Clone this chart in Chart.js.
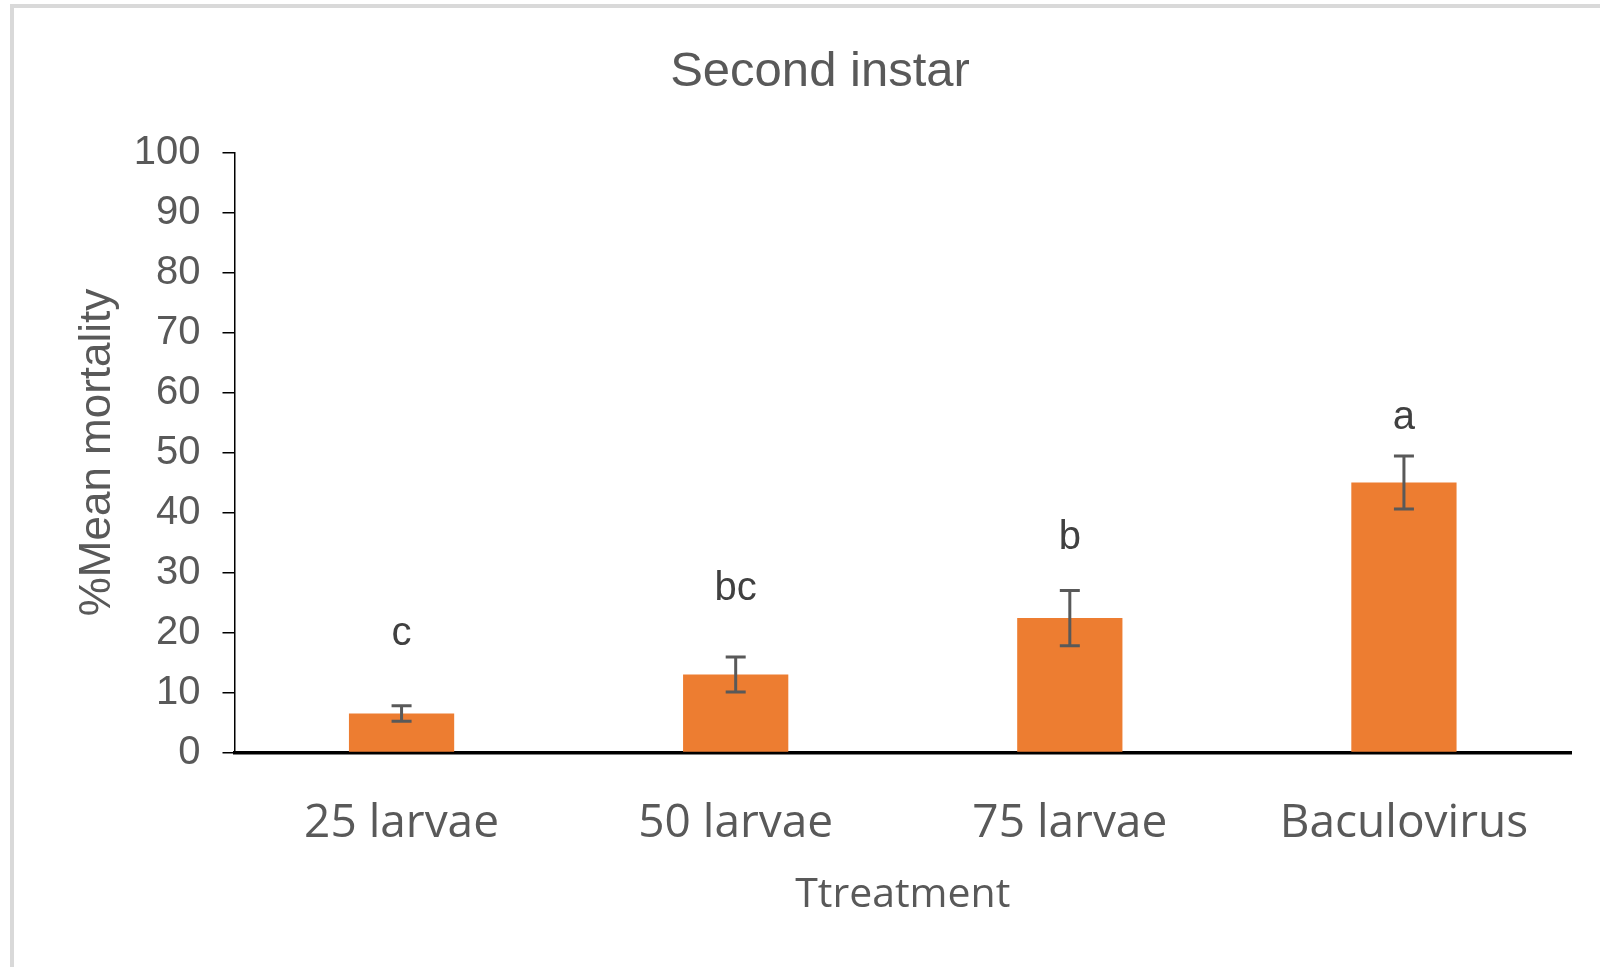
<!DOCTYPE html>
<html>
<head>
<meta charset="utf-8">
<title>Second instar</title>
<script src="https://cdn.jsdelivr.net/npm/chart.js@4.4.1/dist/chart.umd.min.js"></script>
<style>
  html, body { margin: 0; padding: 0; background: #fff; overflow: hidden; }
  #frame {
    position: absolute; left: 10px; top: 4px;
    width: 1620px; height: 1000px;
    border-left: 4px solid #d9d9d9; border-top: 4px solid #d9d9d9;
  }
  #wrap { position: absolute; left: 0; top: 0; width: 1600px; height: 967px; }
</style>
</head>
<body>
<div id="frame"></div>
<div id="wrap"><canvas id="chart" width="1600" height="967"></canvas></div>
<script>
  const categories = ['25 larvae', '50 larvae', '75 larvae', 'Baculovirus'];
  const meanMortality = [6.5, 13.0, 22.4, 45.0];
  const stdError = [1.3, 2.9, 4.6, 4.4];
  const groupLetters = ['c', 'bc', 'b', 'a'];
  const letterLevel = [19.8, 27.2, 35.8, 55.7];
  const yTicks = [0, 10, 20, 30, 40, 50, 60, 70, 80, 90, 100];

  const textGrey = '#595959';

  // error bars + significance letters, drawn through the chart's scales
  const errorBars = {
    id: 'errorBars',
    afterDatasetsDraw(chart) {
      const { ctx, scales: { x, y } } = chart;
      const meta = chart.getDatasetMeta(0);
      ctx.save();
      ctx.strokeStyle = textGrey;
      ctx.lineWidth = 3;
      meta.data.forEach((bar, i) => {
        const cx = bar.x;
        const top = y.getPixelForValue(meanMortality[i] + stdError[i]);
        const bot = y.getPixelForValue(meanMortality[i] - stdError[i]);
        ctx.beginPath();
        ctx.moveTo(cx, top); ctx.lineTo(cx, bot);
        ctx.moveTo(cx - 10, top); ctx.lineTo(cx + 10, top);
        ctx.moveTo(cx - 10, bot); ctx.lineTo(cx + 10, bot);
        ctx.stroke();
      });
      ctx.fillStyle = '#404040';
      ctx.font = '40px "Liberation Sans", Arial, sans-serif';
      ctx.textAlign = 'center';
      ctx.textBaseline = 'middle';
      groupLetters.forEach((t, i) => {
        ctx.fillText(t, x.getPixelForValue(i), y.getPixelForValue(letterLevel[i]));
      });
      ctx.restore();
    }
  };

  const chartTitle = {
    id: 'chartTitle',
    afterDraw(chart) {
      const { ctx } = chart;
      ctx.save();
      ctx.fillStyle = textGrey;
      ctx.font = '49px "Liberation Sans", Arial, sans-serif';
      ctx.textAlign = 'center';
      ctx.textBaseline = 'middle';
      ctx.fillText('Second instar', 820, 72);
      ctx.restore();
    }
  };

  new Chart(document.getElementById('chart').getContext('2d'), {
    type: 'bar',
    data: {
      labels: categories,
      datasets: [{
        label: '%Mean mortality',
        data: meanMortality,
        backgroundColor: '#ED7D31',
        categoryPercentage: 1,
        barPercentage: 0.315
      }]
    },
    options: {
      responsive: false,
      animation: false,
      events: [],
      layout: { padding: { left: 0, right: 29, top: 152.5, bottom: 0 } },
      plugins: { legend: { display: false }, tooltip: { enabled: false }, title: { display: false } },
      scales: {
        x: {
          grid: { display: false, drawTicks: false },
          border: { display: true, color: '#000', width: 3.5 },
          ticks: {
            color: textGrey, padding: 44,
            font: { family: '"Open Sans", sans-serif', size: 46 }
          },
          title: {
            display: true, text: 'Ttreatment', color: textGrey,
            font: { family: '"Open Sans", sans-serif', size: 41 },
            padding: { top: 0, bottom: 47 }
          },
          afterFit(scale) { scale.height = 214.5; }
        },
        y: {
          min: 0, max: 100,
          afterBuildTicks(scale) { scale.ticks = yTicks.map(v => ({ value: v })); },
          grid: {
            display: true, drawOnChartArea: false, drawTicks: true,
            tickLength: 12, color: '#000', lineWidth: 1.5
          },
          border: { display: true, color: '#000', width: 1.5 },
          ticks: {
            color: textGrey, padding: 22,
            font: { family: '"Liberation Sans", Arial, sans-serif', size: 40 }
          },
          title: {
            display: true, text: '%Mean mortality', color: textGrey,
            font: { family: '"Liberation Sans", Arial, sans-serif', size: 44 },
            padding: { top: 71, bottom: 0 }
          },
          afterFit(scale) { scale.width = 234.5; }
        }
      }
    },
    plugins: [errorBars, chartTitle]
  });
</script>
</body>
</html>
